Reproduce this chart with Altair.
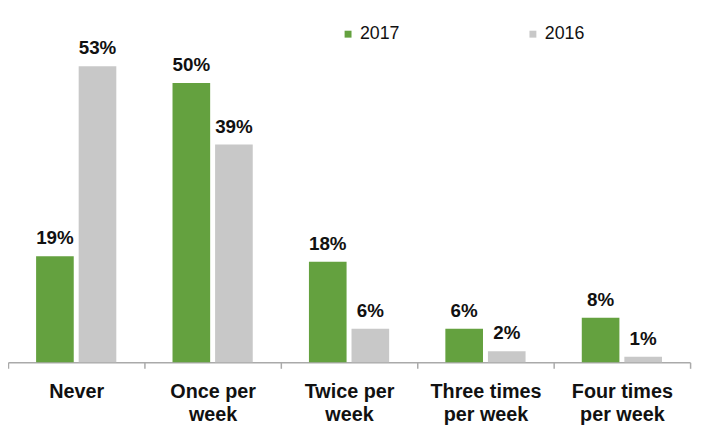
import altair as alt
import pandas as pd

categories = ["Never", "Once per\nweek", "Twice per\nweek", "Three times\nper week", "Four times\nper week"]
years = ["2017", "2016"]
values_2017 = [19, 50, 18, 6, 8]
values_2016 = [53, 39, 6, 2, 1]
colors = ["#64a13f", "#c8c8c8"]

rows = []
for c, v17, v16 in zip(categories, values_2017, values_2016):
    rows.append({"category": c, "year": "2017", "value": v17})
    rows.append({"category": c, "year": "2016", "value": v16})
df = pd.DataFrame(rows)

x = alt.X(
    "category:N",
    sort=categories,
    title=None,
    scale=alt.Scale(paddingInner=0, paddingOuter=0),
    axis=alt.Axis(
        labelExpr="isValid(datum.value) ? split(datum.value, '\\n') : ''",
        labelAngle=0,
        labelFontSize=20,
        labelFontWeight="bold",
        labelColor="#111111",
        labelLineHeight=23,
        labelPadding=14,
        labelBaseline="top",
        tickBand="extent",
        tickSize=6,
        tickColor="#aaaaaa",
        tickWidth=1.5,
        domainColor="#aaaaaa",
        domainWidth=1.5,
        grid=False,
    ),
)
xoff = alt.XOffset(
    "year:N",
    sort=years,
    scale=alt.Scale(paddingInner=0.116, paddingOuter=0.66),
)
y = alt.Y("value:Q", axis=None, scale=alt.Scale(domain=[0, 63], nice=False))

bars = alt.Chart(df).mark_bar().encode(
    x=x,
    xOffset=xoff,
    y=y,
    color=alt.Color(
        "year:N",
        sort=years,
        scale=alt.Scale(domain=years, range=colors),
        legend=alt.Legend(
            title=None,
            orient="none",
            legendX=335,
            legendY=15,
            direction="horizontal",
            symbolType="square",
            symbolSize=49,
            symbolStrokeWidth=0,
            labelFontSize=18,
            labelColor="#111111",
            labelOffset=3,
            columnPadding=125,
            padding=0,
        ),
    ),
)

labels = alt.Chart(df).mark_text(
    fontSize=19, fontWeight="bold", color="#111111", baseline="alphabetic", dy=-12
).transform_calculate(
    label="datum.value + '%'"
).encode(
    x=x,
    xOffset=xoff,
    y=y,
    text="label:N",
)

chart = alt.layer(bars, labels).properties(
    width=690,
    height=356,
    autosize=alt.AutoSizeParams(type="none"),
    padding={"left": 0, "top": 0, "right": 8, "bottom": 71},
).configure(font="Liberation Sans").configure_view(stroke=None)

chart.save("out.html", embed_options={"renderer": "svg", "actions": False})
